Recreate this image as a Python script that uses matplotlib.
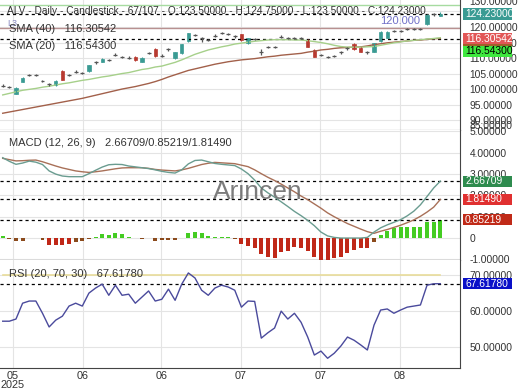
import numpy as np
import matplotlib
matplotlib.use('Agg')
from matplotlib import pyplot as plt
from matplotlib.patches import Rectangle

plt.rcParams['font.family'] = ['Liberation Sans', 'DejaVu Sans']

# ---- data (67 daily bars) ----
opens = [101.0, 100.6, 98.5, 102.4, 104.5, 104.5, 102.7, 101.5, 101.3, 105.8,
         104.5, 105.6, 105.2, 105.8, 108.6, 108.8, 109.3, 111.0, 110.3, 110.1,
         110.3, 108.8, 111.5, 112.9, 110.8, 112.8, 109.9, 111.5, 115.5, 117.4,
         116.5, 115.8, 117.2, 118.0, 117.7, 116.9, 117.6, 114.7, 116.1, 112.0,
         113.5, 113.5, 116.9, 116.4, 116.5, 116.4, 115.8, 112.6, 111.0, 110.4,
         110.7, 111.8, 113.1, 114.4, 113.3, 111.8, 112.0, 115.5, 116.5, 118.7,
         118.7, 119.4, 119.4, 119.4, 120.9, 124.1, 123.5]
highs = [101.5, 101.0, 100.5, 103.9, 104.9, 104.9, 103.0, 101.9, 102.8, 106.1,
         104.9, 106.0, 105.6, 107.9, 109.0, 110.0, 109.7, 111.5, 110.7, 110.5,
         110.6, 110.3, 111.9, 113.2, 111.2, 113.2, 112.0, 114.6, 118.2, 117.8,
         116.9, 116.2, 117.6, 118.4, 118.1, 117.3, 117.9, 116.6, 116.5, 113.0,
         113.9, 113.9, 117.3, 116.8, 116.9, 116.8, 116.1, 112.9, 111.4, 110.8,
         111.1, 112.2, 113.5, 114.7, 113.6, 112.2, 114.9, 118.7, 118.7, 119.1,
         119.1, 119.8, 119.8, 119.8, 124.1, 124.5, 124.75]
lows = [100.7, 100.2, 98.3, 102.2, 104.1, 104.2, 102.2, 101.1, 101.1, 102.8,
        104.2, 105.3, 104.9, 105.6, 108.2, 108.6, 109.0, 110.7, 110.0, 109.7,
        109.1, 108.6, 111.2, 110.4, 110.3, 112.4, 109.7, 111.3, 115.3, 117.0,
        115.3, 115.4, 116.8, 117.6, 117.3, 116.5, 115.6, 114.5, 115.7, 110.9,
        113.1, 113.1, 116.5, 116.0, 116.1, 116.0, 113.4, 110.2, 110.6, 110.0,
        110.3, 111.4, 112.7, 112.7, 111.8, 111.4, 111.8, 115.3, 116.3, 118.3,
        118.3, 119.0, 119.0, 119.0, 120.7, 123.7, 123.5]
closes = [101.1, 100.7, 100.2, 103.6, 104.6, 104.5, 102.6, 101.5, 102.6, 103.0,
          104.5, 105.6, 105.3, 107.7, 108.6, 109.7, 109.3, 111.0, 110.3, 110.1,
          109.3, 110.1, 111.5, 110.6, 110.8, 112.8, 111.8, 114.4, 118.0, 117.4,
          116.5, 115.8, 117.2, 118.0, 117.7, 117.0, 115.8, 116.4, 116.1, 112.0,
          113.6, 113.5, 116.9, 116.4, 116.5, 116.4, 113.6, 110.4, 111.0, 110.4,
          110.7, 111.8, 113.1, 112.9, 112.0, 111.8, 114.7, 118.5, 118.5, 118.7,
          118.7, 119.4, 119.4, 119.4, 123.9, 124.1, 124.23]

sma20 = [98.1, 98.6, 99.1, 99.6, 99.9, 100.2, 100.6, 100.9, 101.3, 101.7,
         102.0, 102.4, 102.8, 103.1, 103.5, 103.9, 104.2, 104.6, 105.0, 105.3,
         105.8, 106.3, 106.6, 107.1, 107.4, 108.0, 108.6, 109.4, 110.3, 111.2,
         111.9, 112.6, 113.1, 113.6, 114.0, 114.5, 114.8, 115.1, 115.4, 115.6,
         115.8, 115.9, 115.9, 115.9, 115.8, 115.8, 115.6, 115.3, 115.0, 114.6,
         114.1, 113.7, 113.5, 113.5, 113.5, 113.6, 113.7, 114.1, 114.5, 114.9,
         115.2, 115.5, 115.7, 115.9, 116.1, 116.3, 116.54]
sma40 = [92.2, 92.6, 93.0, 93.4, 93.8, 94.2, 94.6, 95.0, 95.4, 95.8,
         96.2, 96.6, 97.0, 97.5, 98.0, 98.5, 99.0, 99.5, 100.0, 100.4,
         100.8, 101.3, 101.8, 102.4, 103.1, 103.9, 104.6, 105.3, 106.0, 106.5,
         107.0, 107.5, 108.0, 108.4, 108.8, 109.1, 109.4, 109.6, 109.8, 110.1,
         110.4, 110.6, 110.9, 111.1, 111.3, 111.5, 111.9, 112.2, 112.6, 112.8,
         113.1, 113.3, 113.4, 113.5, 113.6, 113.9, 114.3, 114.6, 114.9, 115.1,
         115.3, 115.5, 115.7, 115.8, 116.0, 116.2, 116.31]

macd = [3.77, 3.60, 3.46, 3.52, 3.61, 3.56, 3.45, 3.15, 3.00, 2.91,
        2.88, 2.88, 2.88, 3.02, 3.18, 3.33, 3.44, 3.46, 3.45, 3.38,
        3.34, 3.30, 3.26, 3.20, 3.13, 3.08, 3.05, 3.20, 3.48, 3.64,
        3.66, 3.58, 3.50, 3.46, 3.43, 3.40, 3.24, 3.02, 2.72, 2.35,
        2.12, 1.92, 1.70, 1.48, 1.25, 1.05, 0.83, 0.58, 0.28, 0.10,
        0.03, 0.00, 0.00, 0.00, 0.00, 0.03, 0.28, 0.48, 0.62, 0.74,
        0.86, 1.04, 1.26, 1.56, 1.95, 2.35, 2.67]
signal = [3.74, 3.68, 3.62, 3.63, 3.65, 3.66, 3.58, 3.48, 3.38, 3.29,
          3.22, 3.15, 3.11, 3.08, 3.11, 3.15, 3.20, 3.25, 3.29, 3.30,
          3.30, 3.30, 3.27, 3.22, 3.19, 3.17, 3.15, 3.20, 3.27, 3.36,
          3.45, 3.51, 3.55, 3.53, 3.51, 3.49, 3.42, 3.35, 3.20, 3.02,
          2.85, 2.70, 2.53, 2.35, 2.17, 1.97, 1.80, 1.60, 1.40, 1.18,
          1.00, 0.84, 0.68, 0.55, 0.42, 0.30, 0.22, 0.32, 0.40, 0.50,
          0.60, 0.72, 0.85, 1.02, 1.22, 1.45, 1.81]
hist = [0.08, -0.05, -0.12, -0.12, 0.0, 0.0, -0.1, -0.33, -0.33, -0.33,
        -0.3, -0.2, -0.15, -0.03, 0.05, 0.17, 0.15, 0.22, 0.17, 0.06,
        0.0, -0.03, 0.0, -0.12, -0.08, -0.1, -0.1, 0.0, 0.22, 0.3,
        0.25, 0.08, 0.06, 0.05, 0.03, -0.03, -0.3, -0.36, -0.48, -0.77,
        -0.88, -0.92, -0.67, -0.61, -0.41, -0.45, -0.61, -0.88, -1.03, -1.08,
        -0.95, -0.88, -0.72, -0.56, -0.48, -0.48, -0.2, 0.14, 0.33, 0.45,
        0.53, 0.53, 0.53, 0.53, 0.73, 0.77, 0.85]

rsi = [57.2, 57.2, 57.8, 62.2, 62.8, 62.8, 59.4, 55.6, 57.5, 58.6,
       61.4, 62.2, 61.4, 65.0, 66.4, 67.5, 64.4, 67.2, 64.4, 64.7,
       62.2, 63.9, 65.6, 62.8, 63.3, 66.1, 63.0, 67.5, 70.6, 69.2,
       65.8, 64.4, 66.4, 67.2, 66.7, 65.8, 61.1, 62.8, 62.7, 52.5,
       54.0, 55.3, 60.0, 57.8, 59.4, 56.9, 52.8, 47.8, 48.9, 46.9,
       48.3, 50.3, 52.8, 51.9, 50.6, 49.2, 56.1, 60.3, 60.6, 59.4,
       60.3, 61.1, 61.4, 61.7, 67.2, 67.6, 67.62]

x_labels = ['05\n2025', '06', '06', '07', '07', '08']
x_tick_pos = [1.55, 12.1, 23.9, 35.9, 47.9, 59.9]

W, H = 520, 390
fig = plt.figure(figsize=(W / 100, H / 100), dpi=100)

def px_axes(y0, y1):
    return fig.add_axes([0, 1 - y1 / H, 460 / W, (y1 - y0) / H])

ax_p = px_axes(0, 130)
ax_m = px_axes(130, 260)
ax_r = px_axes(260, 368)

TXT = '#333333'
GRID = '#e4e4e4'
LBL = 7.4
idx = np.arange(len(closes))

for ax in (ax_p, ax_m, ax_r):
    ax.set_xlim(-0.41, 68.97)
    for s in ('top', 'left'):
        ax.spines[s].set_visible(False)
    ax.spines['right'].set_color('#444444')
    ax.spines['bottom'].set_color('#444444')
    ax.yaxis.tick_right()
    ax.tick_params(axis='y', length=0, pad=7, labelsize=LBL, labelcolor=TXT)
    ax.tick_params(axis='x', length=0, pad=2, labelsize=7.8, labelcolor=TXT)
    ax.set_xticks(x_tick_pos)
    ax.grid(True, color=GRID, lw=0.8)
    ax.set_axisbelow(True)
    ax.set_xticklabels([])

ax_r.set_xticklabels(x_labels, linespacing=0.9)

def tag(ax, y, text, fc, tc='white', ypx=None):
    # fixed-width price tag on the right axis
    if ypx is None:
        ypx = ax.transData.transform((0, y))[1]
    fig.add_artist(Rectangle((463 / W, (ypx - 5.5) / H), 49 / W, 11 / H,
                             transform=fig.transFigure, fc=fc, ec='none',
                             zorder=10))
    fig.text(465 / W, ypx / H, text, fontsize=LBL, color=tc, ha='left',
             va='center', zorder=11)

def side_label(ypx, text):
    fig.text(469 / W, 1 - ypx / H, text, fontsize=LBL, color=TXT, ha='left',
             va='center')

# ---- price panel ----
ax_p.set_ylim(86.8, 128.7)
ax_p.set_yticks([90, 95, 100, 105, 110, 115, 120, 125])
ax_p.set_yticklabels(['90.00000', '95.00000', '100.00000', '105.00000',
                      '110.00000', '115.00000', '120.00000', ''])
ax_p.axhline(127.1, color='#a6dba0', lw=1.0)
ax_p.axhline(119.7, color='#b89090', lw=1.0)
ax_p.axhline(124.1, color='black', lw=0.9, ls=(0, (2.5, 2.5)))
ax_p.axhline(116.1, color='black', lw=0.9, ls=(0, (2.5, 2.5)))
ax_p.plot(idx, sma40, color='#a2604a', lw=1.0)
ax_p.plot(idx, sma20, color='#a6d08a', lw=1.0)

UP, DN, DOJI = '#3a9b93', '#b83a30', '#555555'
for i, (o, h, l, c) in enumerate(zip(opens, highs, lows, closes)):
    if abs(c - o) < 0.15:
        ax_p.vlines(i, l, h, color=DOJI, lw=0.9)
        ax_p.hlines(c, i - 0.3, i + 0.3, color=DOJI, lw=0.9)
    else:
        col = UP if c > o else DN
        ax_p.vlines(i, l, h, color=col, lw=0.8)
        ax_p.bar(i, abs(c - o), bottom=min(o, c), width=0.5, color=col,
                 edgecolor=col, lw=0.5)

ax_p.text(63, 121.9, '120.000', color='#7070c8', fontsize=8, ha='right',
          va='center')
side_label(2, '130.00000')
side_label(126, '85.00000')
tag(ax_p, 0, '124.23000', UP, ypx=H - 14)
tag(ax_p, 0, '', '#a0602a', ypx=H - 43)
tag(ax_p, 0, '116.30542', '#e25656', ypx=H - 38.5)
tag(ax_p, 0, '116.54300', '#3ee83e', tc='black', ypx=H - 51.5)

fig.text(7 / W, 1 - 11 / H,
         'ALV - Daily - Candlestick - 67/107 - O:123.50000 - H:124.75000 - '
         'L:123.50000 - C:124.23000', fontsize=7.3, color=TXT, va='center')
fig.text(7 / W, 1 - 23 / H, 'L3', fontsize=6.5, color='#8a8ac0', va='center')
fig.text(9 / W, 1 - 29 / H, 'SMA (40)   116.30542', fontsize=8, color=TXT,
         va='center')
fig.text(9 / W, 1 - 46 / H, 'SMA (20)   116.54300', fontsize=8, color=TXT,
         va='center')

# ---- MACD panel ----
ax_m.set_ylim(-1.03, 5.07)
ax_m.set_yticks([-1, 0, 1, 2, 3, 4, 5])
ax_m.set_yticklabels(['-1.00000', '0', '1.00000', '2.00000', '3.00000',
                      '4.00000', '5.00000'])
hcols = []
for v in hist:
    if v > 0:
        hcols.append('#44cc22')
    elif v > -0.25:
        hcols.append('#8b4a1c')
    else:
        hcols.append('#c02818')
ax_m.bar(idx, hist, width=0.6, color=hcols)
for v in (2.66709, 1.81490, 0.85219):
    ax_m.axhline(v, color='black', lw=0.9, ls=(0, (2.5, 2.5)))
ax_m.plot(idx, signal, color='#a87058', lw=1.0)
ax_m.plot(idx, macd, color='#6a9c90', lw=1.0)
tag(ax_m, 2.66709, '2.66709', '#2e8b4e')
tag(ax_m, 1.81490, '1.81490', '#e03030')
tag(ax_m, 0.85219, '0.85219', '#c02a18')
fig.text(9 / W, 1 - 143 / H, 'MACD (12, 26, 9)   2.66709/0.85219/1.81490',
         fontsize=8, color=TXT, va='center')
fig.text(258 / W, 1 - 192 / H, 'Arincen', fontsize=19, color='#6e6e6e',
         ha='center', va='center', alpha=0.9)

# ---- RSI panel ----
ax_r.set_ylim(44.2, 74.2)
ax_r.set_yticks([50, 60, 70])
ax_r.set_yticklabels(['50.00000', '60.00000', '70.00000'])
ax_r.plot([0, len(rsi) - 1], [70, 70], color='#e8dc9a', lw=1.2)
ax_r.axhline(67.6178, color='black', lw=0.9, ls=(0, (2.5, 2.5)))
ax_r.plot(idx, rsi, color='#4a4a9c', lw=1.0)
tag(ax_r, 67.6178, '67.61780', '#0a10c8')
fig.text(9 / W, 1 - 274 / H, 'RSI (20, 70, 30)   67.61780', fontsize=8,
         color=TXT, va='center')

fig.savefig('out.png', dpi=100)
